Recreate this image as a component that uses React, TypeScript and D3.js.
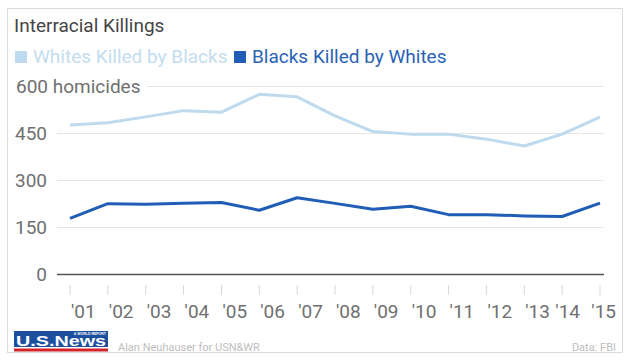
import React, { useEffect, useRef } from "react";
import * as d3 from "d3";

const years = ["'01", "'02", "'03", "'04", "'05", "'06", "'07", "'08", "'09", "'10", "'11", "'12", "'13", "'14", "'15"];
const whitesKilledByBlacks = [477, 484, 503, 523, 518, 575, 567, 506, 456, 448, 448, 432, 410, 448, 502];
const blacksKilledByWhites = [179, 226, 224, 227, 230, 205, 245, 227, 208, 218, 191, 191, 187, 185, 228];
const yTicks = [0, 150, 300, 450, 600];
const seriesNames = ["Whites Killed by Blacks", "Blacks Killed by Whites"];

const W = 631;
const H = 363;
const LIGHT = "#bddaee";
const DARK = "#1f5db6";
const FONT = "Roboto, 'Noto Sans', sans-serif";

const App = () => {
  const ref = useRef(null);

  useEffect(() => {
    const svg = d3.select(ref.current);
    svg.selectAll("*").remove();

    const x = d3.scalePoint().domain(years).range([70, 600]);
    const y = d3.scaleLinear().domain([0, 600]).range([274.5, 86.5]);

    // frame
    svg.append("rect")
      .attr("x", 7.5).attr("y", 8.5).attr("width", 615).attr("height", 344)
      .attr("fill", "#fff").attr("stroke", "#dcdcdc");

    svg.append("text")
      .attr("x", 14).attr("y", 32)
      .style("font-family", FONT).style("font-size", "19px").style("fill", "#454545")
      .text("Interracial Killings");

    // legend
    const legend = [
      { name: seriesNames[0], color: LIGHT, text: "#c3ddef", x: 15 },
      { name: seriesNames[1], color: DARK, text: "#2b62b4", x: 234 },
    ];
    legend.forEach(l => {
      svg.append("rect").attr("x", l.x).attr("y", 51).attr("width", 12).attr("height", 12).attr("fill", l.color);
      svg.append("text")
        .attr("x", l.x + 18).attr("y", 63)
        .style("font-family", FONT).style("font-size", "19px").style("fill", l.text)
        .text(l.name);
    });

    // grid + y labels
    yTicks.forEach(t => {
      const top = t === 600;
      svg.append("line")
        .attr("x1", top ? 147 : 57).attr("x2", 604)
        .attr("y1", y(t)).attr("y2", y(t))
        .attr("stroke", t === 0 ? "#555" : "#e6e6e6")
        .attr("stroke-width", t === 0 ? 1.5 : 1);
      svg.append("text")
        .attr("x", top ? 16 : 47).attr("y", y(t)).attr("dy", "0.35em")
        .attr("text-anchor", top ? "start" : "end")
        .style("font-family", FONT).style("font-size", "19px").style("fill", "#707070")
        .text(top ? t + " homicides" : String(t));
    });

    // x ticks and labels
    years.forEach((yr, i) => {
      const px = x(yr);
      svg.append("line")
        .attr("x1", px).attr("x2", px).attr("y1", 285).attr("y2", 295)
        .attr("stroke", "#d8d8d8");
      const last = i === years.length - 1;
      const prev = i === years.length - 2;
      svg.append("text")
        .attr("x", last ? 616 : prev ? 580 : px + 1)
        .attr("y", 318)
        .attr("text-anchor", last || prev ? "end" : "start")
        .style("font-family", FONT).style("font-size", "19px").style("fill", "#707070")
        .text(yr);
    });

    const line = d3.line()
      .x((d, i) => x(years[i]))
      .y(d => y(d));

    svg.append("path")
      .attr("d", line(whitesKilledByBlacks))
      .attr("fill", "none").attr("stroke", LIGHT).attr("stroke-width", 3)
      .attr("stroke-linejoin", "round");
    svg.append("path")
      .attr("d", line(blacksKilledByWhites))
      .attr("fill", "none").attr("stroke", DARK).attr("stroke-width", 3)
      .attr("stroke-linejoin", "round");

    // footer logo
    const logo = svg.append("g");
    logo.append("rect").attr("x", 14).attr("y", 331).attr("width", 94).attr("height", 16).attr("fill", "#1c4f9e");
    logo.append("rect").attr("x", 14).attr("y", 348.5).attr("width", 94).attr("height", 3).attr("fill", "#d2232a");
    logo.append("text")
      .attr("x", 16).attr("y", 346)
      .attr("textLength", 90).attr("lengthAdjust", "spacingAndGlyphs")
      .style("font-family", "'Liberation Sans Narrow', 'Liberation Sans', sans-serif")
      .style("font-weight", "bold").style("font-size", "15px").style("fill", "#fff")
      .text("U.S.News");
    logo.append("text")
      .attr("x", 106).attr("y", 335).attr("text-anchor", "end")
      .style("font-family", "'Liberation Sans', sans-serif").style("font-weight", "bold")
      .style("font-size", "3.5px").style("fill", "#fff")
      .text("& WORLD REPORT");

    svg.append("text")
      .attr("x", 118).attr("y", 351)
      .style("font-family", FONT).style("font-size", "11px").style("fill", "#bdbdbd")
      .text("Alan Neuhauser for USN&WR");
    svg.append("text")
      .attr("x", 616).attr("y", 351).attr("text-anchor", "end")
      .style("font-family", FONT).style("font-size", "11px").style("fill", "#bdbdbd")
      .text("Data: FBI");
  }, []);

  return (
    <svg ref={ref} width={W} height={H} style={{ position: "absolute", left: 0, top: 0, background: "#fff" }} />
  );
};

export default App;
